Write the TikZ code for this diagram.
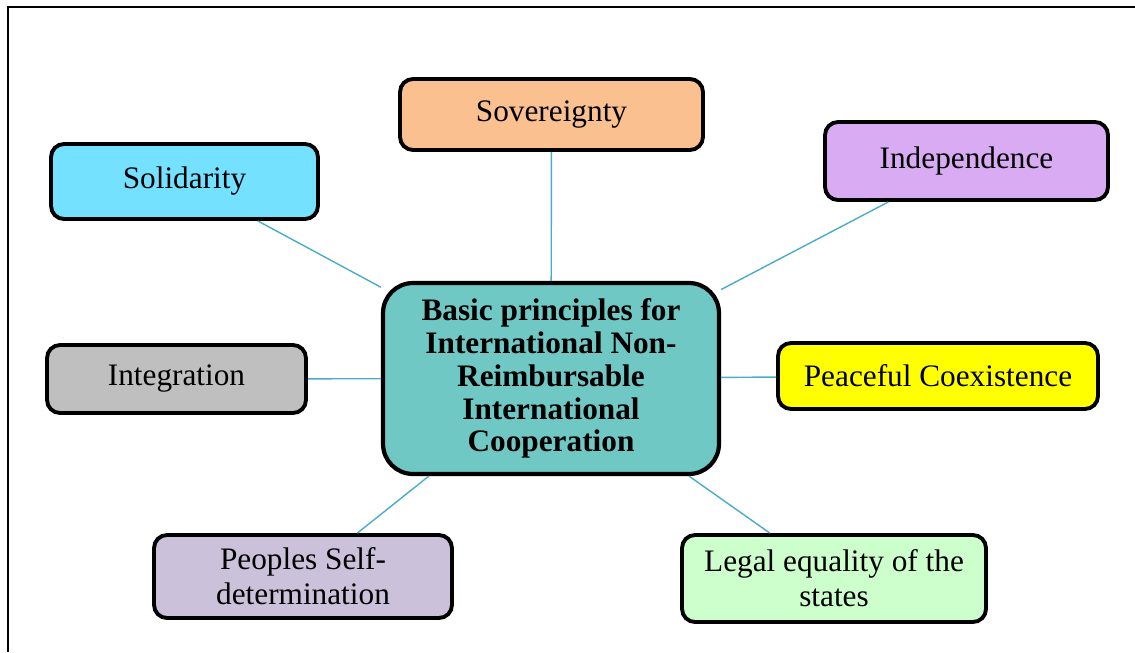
\documentclass[tikz,border=0pt]{standalone}
\usepackage{fontspec}
\setmainfont{Liberation Serif}
\usepackage{xcolor}
\usepackage{tikz}
\usetikzlibrary{arrows.meta,positioning}

\definecolor{solcol}{HTML}{73E1FF}
\definecolor{sovcol}{HTML}{FAC090}
\definecolor{indcol}{HTML}{D8ABF3}
\definecolor{intcol}{HTML}{BFBFBF}
\definecolor{maincol}{HTML}{70C8C5}
\definecolor{peacecol}{HTML}{FFFF00}
\definecolor{peopcol}{HTML}{CCC1DA}
\definecolor{legalcol}{HTML}{CCFFCC}
\definecolor{linkcol}{HTML}{4BACC6}

\begin{document}
\begin{tikzpicture}[x=0.02cm, y=-0.02cm, >=Stealth,
  font=\fontsize{17.8pt}{19.8pt}\selectfont,
  leaf/.style={draw, line width=2.2pt, rounded corners=0.26cm, align=center, inner sep=2pt},
  hub/.style={draw, line width=2.4pt, rounded corners=0.6cm, fill=maincol, align=center,
    font=\fontsize{17.8pt}{18.7pt}\selectfont\bfseries, minimum width=6.72cm, minimum height=3.82cm},
  link/.style={draw=linkcol, line width=0.8pt}]

  \useasboundingbox (0,0) rectangle (1135,652);

  % ----------------------
  % Cornice (aperta a destra e in basso)
  % ----------------------
  \draw[line width=1.1pt] (8,652) -- (8,7) -- (1135,7);

  % ----------------------
  % Nodo centrale
  % ----------------------
  \node[hub] (main) at (551,378.5) {Basic principles for\\International Non-\\Reimbursable\\International\\Cooperation};

  % ----------------------
  % Principi intorno
  % ----------------------
  \node[leaf, fill=solcol, minimum width=5.34cm, minimum height=1.5cm] (sol) at (184.5,181.5) {Solidarity};
  \node[leaf, fill=sovcol, minimum width=6.06cm, minimum height=1.42cm] (sov) at (551.5,114.5) {Sovereignty};
  \node[leaf, fill=indcol, minimum width=5.66cm, minimum height=1.56cm] (ind) at (966.5,161) {Independence};
  \node[leaf, fill=intcol, minimum width=5.18cm, minimum height=1.36cm] (integ) at (176.5,379) {Integration};
  \node[leaf, fill=peacecol, minimum width=6.4cm, minimum height=1.32cm] (peace) at (938,376) {Peaceful Coexistence};
  \node[leaf, fill=peopcol, minimum width=5.96cm, minimum height=1.66cm] (peop) at (303,576.5) {Peoples Self-\\determination};
  \node[leaf, fill=legalcol, minimum width=6.08cm, minimum height=1.74cm] (legal) at (834,578.5) {Legal equality of the\\states};

  % ----------------------
  % Collegamenti
  % ----------------------
  \foreach \n in {sol, sov, ind, integ, peace, peop, legal}
    \draw[link] (main) -- (\n);

\end{tikzpicture}
\end{document}
